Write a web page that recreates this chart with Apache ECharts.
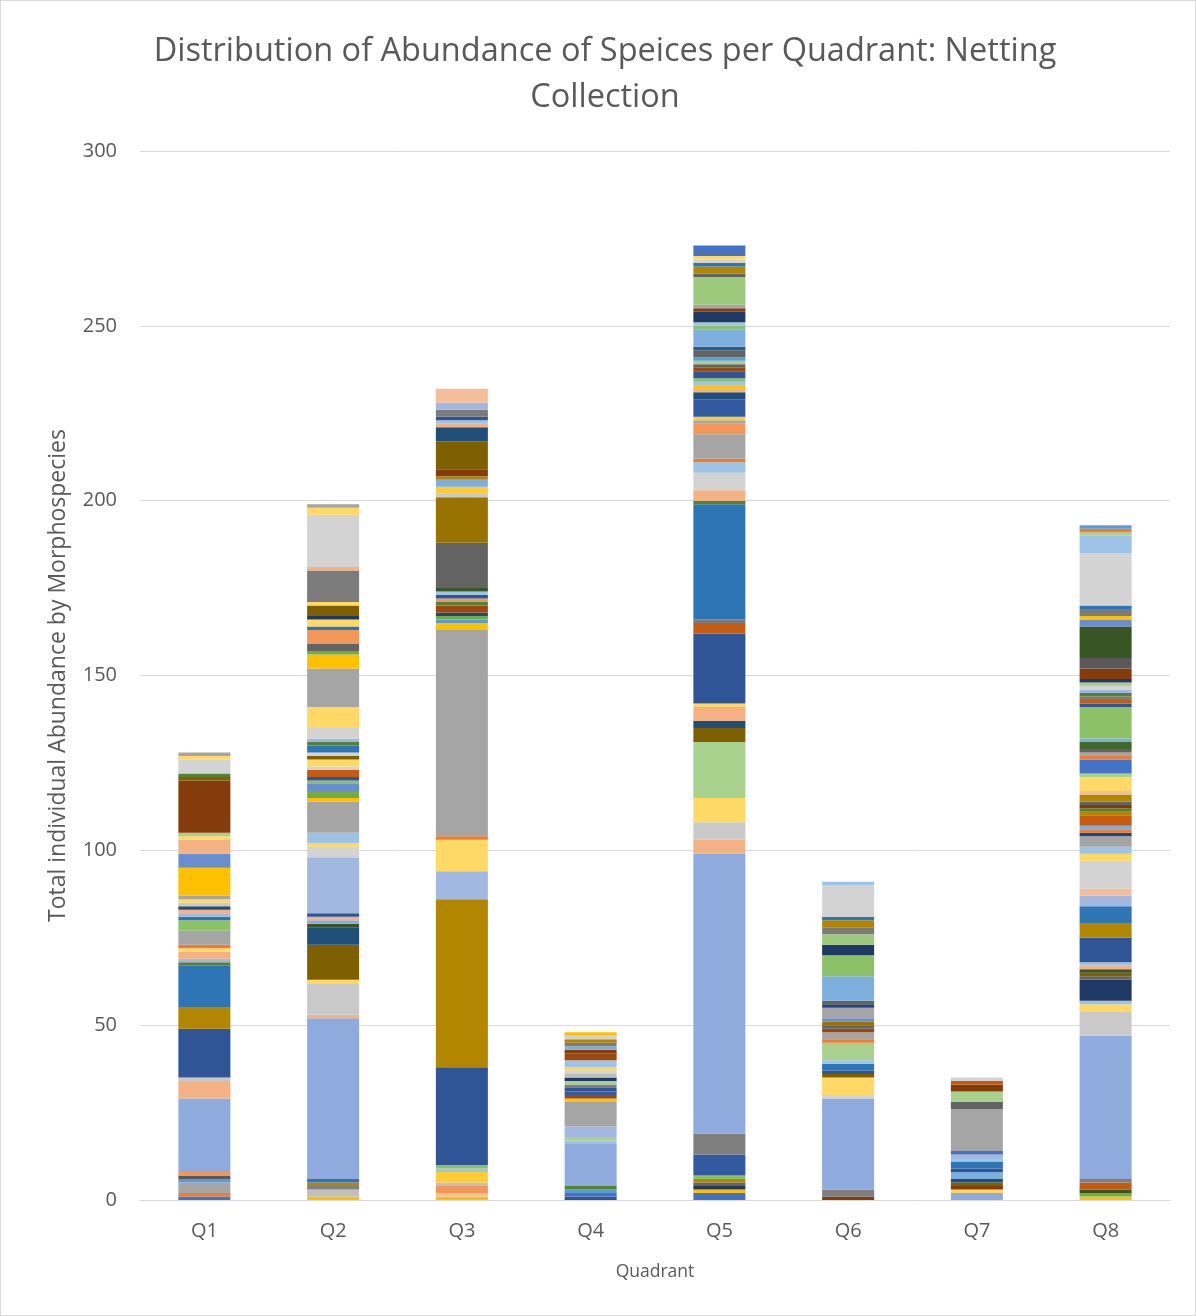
<!DOCTYPE html>
<html>
<head>
<meta charset="utf-8">
<script src="https://cdn.jsdelivr.net/npm/echarts@6/dist/echarts.min.js"></script>
<style>
html,body{margin:0;padding:0;background:#fff;}
#chart{width:1196px;height:1316px;box-sizing:border-box;border:1px solid #D9D9D9;}
</style>
</head>
<body>
<div id="chart"></div>
<script>
// ---- DATA (segments listed bottom to top for each quadrant) ----
const quadrants = ['Q1','Q2','Q3','Q4','Q5','Q6','Q7','Q8'];
const yTicks = [0, 50, 100, 150, 200, 250, 300];

const q1Values = [1,1,3,1,1,1,21,5,1,14,6,12,1,1,2,1,1,4,3,1,1,1,1,1,1,1,8,4,4,1,1,15,1,1,4,1,1];
const q1Colors = ['blue','orange','gray','sky','charcoal','midorange','ltblue','ltorange','ltgray','dkblue','dkgold','steel','dkgreen','paleblue','ltorange','ltyellow','orange','gray','midgreen','steel','paleblue','ltorange','navy2','ltgray','ltyellow','gray','gold','midblue','ltorange','ltyellow','ltgreen','brown','olive','dkgreen','palegray','ltyellow','gray'];

const q2Values = [1,2,1,1,1,46,1,9,1,10,5,1,1,1,1,16,3,1,3,9,1,2,2,1,1,2,1,2,1,1,2,1,1,3,6,11,4,1,2,4,1,2,1,3,1,9,1,15,2,1];
const q2Colors = ['gold','ltgray2','dkgray2','dkgold','steel','ltblue','ltorange','ltgray','ltyellow','olive','navy2','forest','ltblue','ltorange','dkblue','paleblue','palegray','ltyellow','ltsky','gray','gold','green','midblue','midgreen','dkblue','dkorange','palegray','ltyellow','olive','palegray','steel','dkgreen','paleblue','palegray','ltyellow','gray','gold','green','grayd','midorange','steel','ltyellow','navy','olive','ltyellow','dkgray','ltorange','palegray','ltyellow','gray'];

const q3Values = [1,1,2,1,3,1,1,28,48,8,9,1,59,2,1,1,1,2,1,1,1,1,1,13,13,1,2,2,1,2,8,4,1,1,1,2,2,4];
const q3Colors = ['gold','paleorange','midorange','ltgray2','midgold','ltsky','midgreen','dkblue','dkgold','paleblue','ltyellow','orange','gray','gold','sky','green','navyb','rust','dkgreen','midorange','dkblue','ltsky','forest','grayd','goldolive','ltgray','midgold','midsky','dkgold','brown','olive','navy2','ltorange','ltsky','dkblue','dkgray','paleblue','paleorange'];

const q4Values = [1,1,1,1,12,1,1,3,7,1,1,1,1,1,1,1,1,1,1,2,2,1,1,1,1,1,1];
const q4Colors = ['dkblue','blue','sky','dkgreen','ltblue','ltsky','ltgreen','paleblue','gray','gold','rust','blue3','dkblue','dkgray2','ltgreen','navy','ltgray2','palegray','ltyellow','ltsky','rust','brown','midsky','dkgray','dkgold','palegray','gold'];

const q5Values = [2,1,1,1,1,1,6,6,80,4,5,7,16,4,2,4,1,20,3,1,33,1,3,5,3,1,7,3,1,1,5,2,1,1,1,1,2,1,1,1,1,2,1,5,1,1,3,1,1,8,1,2,1,1,1,3];
const q5Colors = ['blue','gold','navy','grayd','dkgold','midgreen','blue3','dkgray2','ltblue','ltorange','ltgray','ltyellow','ltgreen','olive','navy2','ltorange','ltyellow','dkblue','dkorange','dkgray','steel','dkgreen','ltorange','palegray','ltsky','orange','gray','midorange','gray','midgold','blue3','navy2','ltorange','gold','ltsky','midgreen','dkblue','rust','grayd','ltgreen','sky','grayd','steel2','midsky','midgreen','ltsky','navy','brown','gray','ltgreen2','grayd','dkgold','steel','palegray','ltyellow','blue'];

const q6Values = [1,2,26,1,5,1,1,2,1,5,1,2,1,1,1,1,3,1,1,7,6,3,3,2,2,1,9,1];
const q6Colors = ['brown','dkgray2','ltblue','palegray','ltyellow','olive','dkblue','steel','ltsky','ltgreen','orange','gray','rust','grayd','goldolive','midblue','gray','navyb','grayd','midsky','midgreen','navy','ltgreen2','dkgray','dkgold','steel','palegray','ltsky'];

const q7Values = [2,1,1,1,1,2,1,2,1,1,1,12,2,3,2,1,1];
const q7Colors = ['ltblue','ltyellow','brown','olive','navy2','midsky','dkblue','steel','ltsky','paleblue','blue','gray','grayd','ltgreen','brown','dkorange','palegray'];

const q8Values = [1,1,1,2,1,41,7,2,1,6,1,1,1,1,1,7,4,5,3,2,8,2,2,3,1,1,1,3,1,1,1,1,2,1,4,1,4,1,1,1,2,1,9,1,1,1,1,1,1,1,1,3,3,9,2,1,2,1,15,5,1,1,1];
const q8Colors = ['gold','green','forest','dkorange','dkgray2','ltblue','ltgray','ltyellow','ltsky','navy','grayd','olive','forest','ltorange','ltsky','dkblue','dkgold','steel','paleblue','paleorange','palegray','ltyellow','ltsky','gray','navyb','orange','midsky','dkorange','dkgold','dkgreen','brown','grayd','dkgold','paleorange','ltyellow','ltgreen','blue','orange','gray','grayd','green3','midsky','midgreen','dkblue','dkorange','dkgray','dkgreen','paleblue','palegray','ltgreen','navy','brown','charcoal','forest','midblue','gold','dkgray','steel','palegray','ltsky','ltgreen','orange','sky'];

// ---- STYLE ----
const palette = {
  blue:'#4472C4', orange:'#ED7D31', gray:'#A5A5A5', gold:'#FFC000', sky:'#5B9BD5', green:'#70AD47',
  dkblue:'#2F5597', dkorange:'#C55A11', dkgray:'#7B7B7B', dkgray2:'#7F7F7F', dkgold:'#B38600', steel:'#2E75B6', dkgreen:'#548235',
  navy:'#203864', brown:'#843C0C', charcoal:'#595959', olive:'#7F6000', navy2:'#1F4E79', forest:'#375623',
  ltblue:'#8FAADC', ltorange:'#F4B183', ltgray:'#C9C9C9', ltgray2:'#BFBFBF', ltyellow:'#FFD966', ltsky:'#9DC3E6', ltgreen:'#A9D18E', ltgreen2:'#9DC97D',
  paleblue:'#A2B8E0', paleorange:'#F5BE9A', palegray:'#D3D3D3',
  midblue:'#698ED0', midorange:'#F1975A', midgold:'#FFCD33', midsky:'#7CAFDD', midgreen:'#8CC168',
  navyb:'#264478', rust:'#9E480E', grayd:'#636363', goldolive:'#997300', steel2:'#255E91', green3:'#43682B', blue3:'#335AA1'
};

const qValues = [q1Values,q2Values,q3Values,q4Values,q5Values,q6Values,q7Values,q8Values];
const qColors = [q1Colors,q2Colors,q3Colors,q4Colors,q5Colors,q6Colors,q7Colors,q8Colors];
const maxLayers = Math.max(...qValues.map(a => a.length));

const series = [];
for (let i = 0; i < maxLayers; i++) {
  series.push({
    type: 'bar',
    stack: 'total',
    barWidth: 52,
    silent: true,
    data: qValues.map((vals, q) => vals[i] != null
      ? { value: vals[i], itemStyle: { color: palette[qColors[q][i]] } }
      : '-')
  });
}

const FONT = 'Open Sans';
const chart = echarts.init(document.getElementById('chart'), null, { renderer: 'canvas' });
chart.setOption({
  animation: false,
  backgroundColor: '#fff',
  title: {
    text: 'Distribution of Abundance of Speices per Quadrant: Netting\nCollection',
    left: 604,
    textAlign: 'center',
    top: 28,
    padding: 0,
    textStyle: { fontFamily: FONT, fontSize: 32.5, fontWeight: 'normal', color: '#595959', lineHeight: 46 }
  },
  grid: { left: 139, right: 25, top: 150, bottom: 115, containLabel: false },
  xAxis: {
    type: 'category',
    data: quadrants,
    name: 'Quadrant',
    nameLocation: 'middle',
    nameGap: 63,
    nameTextStyle: { fontFamily: FONT, fontSize: 17.5, color: '#595959' },
    axisLine: { show: true, lineStyle: { color: '#D9D9D9', width: 1 } },
    axisTick: { show: false },
    axisLabel: { fontFamily: FONT, fontSize: 20, color: '#595959', margin: 21 }
  },
  yAxis: {
    type: 'value',
    min: yTicks[0],
    max: yTicks[yTicks.length - 1],
    interval: yTicks[1] - yTicks[0],
    name: 'Total individual Abundance by Morphospecies',
    nameLocation: 'middle',
    nameGap: 70,
    nameRotate: 90,
    nameTextStyle: { fontFamily: FONT, fontSize: 23, color: '#595959' },
    axisLine: { show: false },
    axisTick: { show: false },
    axisLabel: { fontFamily: FONT, fontSize: 20, color: '#595959', margin: 23 },
    splitLine: { lineStyle: { color: '#D9D9D9', width: 1 } }
  },
  series: series
});
</script>
</body>
</html>
